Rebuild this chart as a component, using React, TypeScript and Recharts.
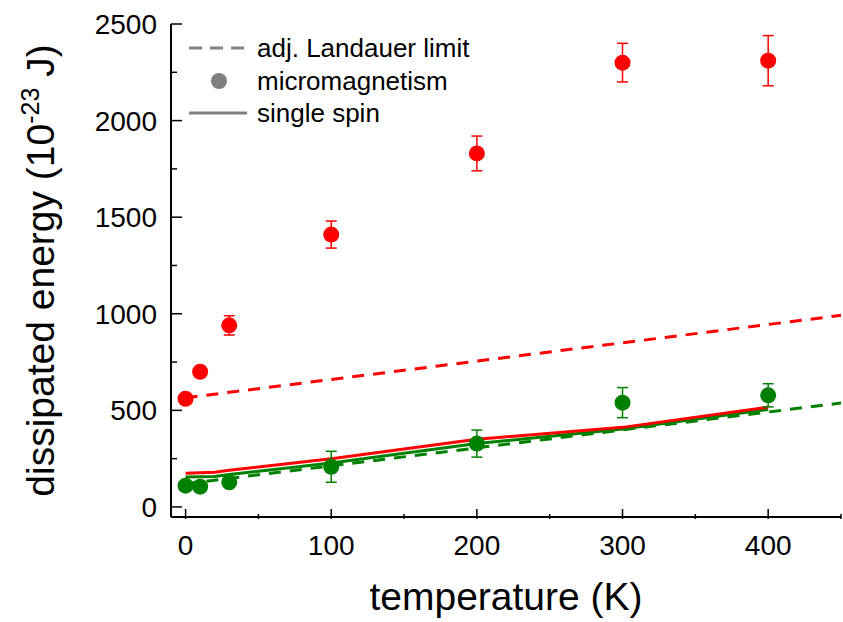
import React from "react";
import { ComposedChart, Line, Scatter, XAxis, YAxis, ErrorBar } from "recharts";

// micromagnetism points (temperature in K, energy in 1e-23 J)
const TEMPS = [0, 10, 30, 100, 200, 300, 400];
const RED_MICRO = [560, 700, 940, 1410, 1830, 2300, 2310];
const RED_MICRO_ERR = [0, 0, 50, 70, 90, 100, 130];
const GREEN_MICRO = [110, 105, 128, 208, 328, 540, 578];
const GREEN_MICRO_ERR = [0, 0, 0, 80, 70, 78, 60];

// single spin model
const SPIN_TEMPS = [0, 20, 30, 100, 200, 300, 400];
const RED_SPIN = [174, 180, 190, 250, 350, 412, 517];
const GREEN_SPIN = [155, 158, 168, 228, 328, 403, 505];

// adjusted Landauer limit
const LANDAUER_TEMPS = [0, 450];
const RED_LANDAUER = [565, 992];
const GREEN_LANDAUER = [120, 538];

const X_TICKS = [0, 50, 100, 150, 200, 250, 300, 350, 400, 450];
const X_LABELS = [0, 100, 200, 300, 400];
const Y_TICKS = [0, 250, 500, 750, 1000, 1250, 1500, 1750, 2000, 2250, 2500];
const Y_LABELS = [0, 500, 1000, 1500, 2000, 2500];

const FONT = '"Liberation Sans", Arial, Helvetica, sans-serif';
const RED = "#ff0000";
const GREEN = "#008000";
const GRAY = "#808080";

const rows = (xs: number[], ys: number[], errs?: number[]) =>
  xs.map((t, i) => ({ t, e: ys[i], err: errs ? errs[i] : 0 }));

const BottomTick = (props: any) => {
  const { x, y, payload } = props;
  const major = X_LABELS.includes(payload.value);
  return (
    <g>
      <line x1={x} y1={y} x2={x} y2={y - (major ? 10 : 5)} stroke="#000" strokeWidth={1.5} />
      {major && (
        <text x={x} y={y + 36} textAnchor="middle" fontSize={28} fontFamily={FONT} fill="#000">
          {payload.value}
        </text>
      )}
    </g>
  );
};

const LeftTick = (props: any) => {
  const { x, y, payload } = props;
  const major = Y_LABELS.includes(payload.value);
  return (
    <g>
      <line x1={x} y1={y} x2={x + (major ? 11 : 6)} y2={y} stroke="#000" strokeWidth={1.5} />
      {major && (
        <text x={x - 14} y={y + 10} textAnchor="end" fontSize={28} fontFamily={FONT} fill="#000">
          {payload.value}
        </text>
      )}
    </g>
  );
};

const TopTick = (props: any) => (
  <line x1={props.x} y1={props.y} x2={props.x} y2={props.y + 3} stroke="#000" strokeWidth={1.5} />
);

const RightTick = (props: any) => (
  <line x1={props.x} y1={props.y} x2={props.x - 3} y2={props.y} stroke="#000" strokeWidth={1.5} />
);

const XTitle = (props: any) => {
  const vb = props.viewBox;
  return (
    <text x={vb.x + vb.width / 2} y={vb.y + 93} textAnchor="middle" fontSize={39} fontFamily={FONT} fill="#000">
      temperature (K)
    </text>
  );
};

const YTitle = (props: any) => {
  const vb = props.viewBox;
  const cx = vb.x + 54;
  const cy = vb.y + vb.height / 2;
  return (
    <text
      x={cx}
      y={cy}
      transform={`rotate(-90 ${cx} ${cy})`}
      textAnchor="middle"
      fontSize={39}
      fontFamily={FONT}
      fill="#000"
    >
      dissipated energy (10
      <tspan dy={-15} fontSize={25}>-23</tspan>
      <tspan dy={15}> J)</tspan>
    </text>
  );
};

const dot = (color: string) => (p: any) => <circle cx={p.cx} cy={p.cy} r={8} fill={color} />;

const LegendBox = () => (
  <svg width={520} height={140} style={{ position: "absolute", left: 0, top: 0, pointerEvents: "none" }}>
    <line x1={189} y1={48} x2={246} y2={48} stroke={GRAY} strokeWidth={3} strokeDasharray="13 8" />
    <text x={257} y={57} fontSize={26} fontFamily={FONT} fill="#000">adj. Landauer limit</text>
    <circle cx={219} cy={81} r={8} fill={GRAY} />
    <text x={257} y={90} fontSize={26} fontFamily={FONT} fill="#000">micromagnetism</text>
    <line x1={189} y1={113} x2={247} y2={113} stroke={GRAY} strokeWidth={3} />
    <text x={257} y={122} fontSize={26} fontFamily={FONT} fill="#000">single spin</text>
  </svg>
);

export default function App() {
  return (
    <div style={{ position: "absolute", left: 0, top: 0, width: 843, height: 622, background: "#fff" }}>
      <ComposedChart width={843} height={622} margin={{ top: 24, right: 2, bottom: 0, left: 0 }}>
        <XAxis
          xAxisId="b"
          dataKey="t"
          type="number"
          domain={[-10, 450]}
          allowDataOverflow
          ticks={X_TICKS}
          interval={0}
          height={105}
          tickSize={0}
          tickLine={false}
          tick={BottomTick}
          axisLine={{ stroke: "#000", strokeWidth: 2 }}
          label={{ content: XTitle }}
        />
        <XAxis
          xAxisId="top"
          orientation="top"
          type="number"
          domain={[-10, 450]}
          allowDataOverflow
          ticks={X_TICKS}
          interval={0}
          height={0}
          tickSize={0}
          tickMargin={0}
          tickLine={false}
          tick={TopTick}
          axisLine={{ stroke: "#000", strokeWidth: 2 }}
        />
        <YAxis
          yAxisId="l"
          dataKey="e"
          type="number"
          domain={[-52, 2500]}
          allowDataOverflow
          ticks={Y_TICKS}
          interval={0}
          width={171}
          tickSize={0}
          tickMargin={0}
          tickLine={false}
          tick={LeftTick}
          axisLine={{ stroke: "#000", strokeWidth: 2 }}
          label={{ content: YTitle }}
        />
        <YAxis
          yAxisId="r"
          orientation="right"
          type="number"
          domain={[-52, 2500]}
          allowDataOverflow
          ticks={Y_TICKS}
          interval={0}
          width={0}
          tickSize={0}
          tickMargin={0}
          tickLine={false}
          tick={RightTick}
          axisLine={{ stroke: "#000", strokeWidth: 2 }}
        />

        <Line xAxisId="b" yAxisId="l" data={rows(LANDAUER_TEMPS, RED_LANDAUER)} dataKey="e" type="linear"
          stroke={RED} strokeWidth={3} strokeDasharray="12 9" dot={false} isAnimationActive={false} />
        <Line xAxisId="b" yAxisId="l" data={rows(LANDAUER_TEMPS, GREEN_LANDAUER)} dataKey="e" type="linear"
          stroke={GREEN} strokeWidth={3} strokeDasharray="12 9" dot={false} isAnimationActive={false} />
        <Line xAxisId="b" yAxisId="l" data={rows(SPIN_TEMPS, GREEN_SPIN)} dataKey="e" type="linear"
          stroke={GREEN} strokeWidth={3} dot={false} isAnimationActive={false} />
        <Line xAxisId="b" yAxisId="l" data={rows(SPIN_TEMPS, RED_SPIN)} dataKey="e" type="linear"
          stroke={RED} strokeWidth={3} dot={false} isAnimationActive={false} />

        <Scatter xAxisId="b" yAxisId="l" data={rows(TEMPS, RED_MICRO, RED_MICRO_ERR)} dataKey="e"
          fill={RED} shape={dot(RED)} isAnimationActive={false}>
          <ErrorBar dataKey="err" direction="y" width={5.5} stroke={RED} strokeWidth={1.5} />
        </Scatter>
        <Scatter xAxisId="b" yAxisId="l" data={rows(TEMPS, GREEN_MICRO, GREEN_MICRO_ERR)} dataKey="e"
          fill={GREEN} shape={dot(GREEN)} isAnimationActive={false}>
          <ErrorBar dataKey="err" direction="y" width={5.5} stroke={GREEN} strokeWidth={1.5} />
        </Scatter>
      </ComposedChart>
      <LegendBox />
    </div>
  );
}
